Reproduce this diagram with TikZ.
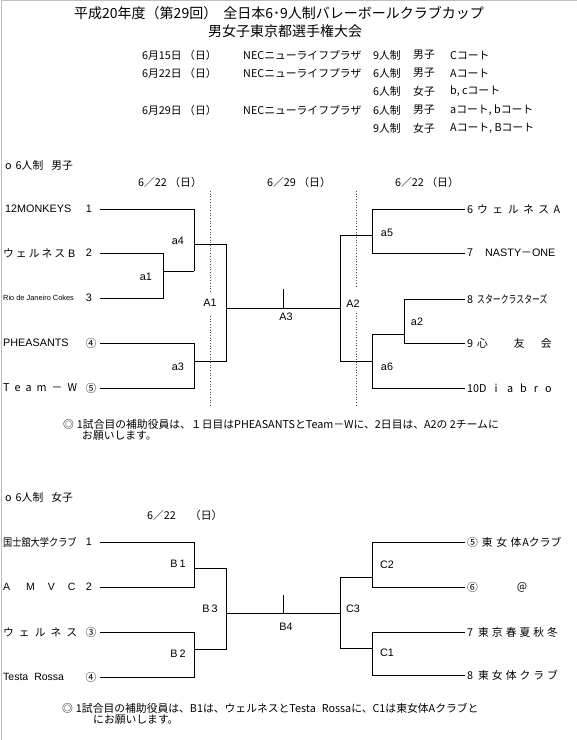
\documentclass[tikz,border=0pt]{standalone}
\usepackage{fontspec}
\setmainfont{Noto Sans CJK JP}
\newfontfamily\lat{Liberation Sans}
\usepackage{graphicx}
\begin{document}
\begin{tikzpicture}[x=1pt,y=-1pt,
  br/.style={line width=0.8pt},
  dotl/.style={dotted, line width=0.7pt, black!70},
  txt/.style={inner sep=0pt, font=\fontsize{10.8}{12}\selectfont},
  tl/.style={txt, anchor=west},
  lab/.style={txt, anchor=center},
  ttl/.style={inner sep=0pt, anchor=center, font=\fontsize{14}{16}\selectfont}]
\useasboundingbox (0,0) rectangle (577,740);
\fill[white] (0,0) rectangle (577,740);
\draw[black!25, line width=1pt] (1,740) -- (1,0.5) -- (577,0.5);

% ---------------- header ----------------
\node[ttl] (title1) at (279,13) {平成20年度（第29回）\hspace{6pt}全日本6･9人制バレーボールクラブカップ};
\node[ttl] (title2) at (285,31) {男女子東京都選手権大会};

\node[tl] (d1) at (142,55) {6月15日 （日）};
\node[tl] (v1) at (243,55) {NECニューライフプラザ};
\node[tl] (c1) at (373,55) {9人制};
\node[tl] (s1) at (413,55) {男子};
\node[tl] (k1) at (450,55) {Cコート};

\node[tl] (d2) at (142,73) {6月22日 （日）};
\node[tl] (v2) at (243,73) {NECニューライフプラザ};
\node[tl] (c2) at (373,73) {6人制};
\node[tl] (s2) at (413,73) {男子};
\node[tl] (k2) at (450,73) {Aコート};

\node[tl] (c3) at (373,91) {6人制};
\node[tl] (s3) at (413,91) {女子};
\node[tl] (k3) at (450,91) {b, cコート};

\node[tl] (d4) at (142,110) {6月29日 （日）};
\node[tl] (v4) at (243,110) {NECニューライフプラザ};
\node[tl] (c4) at (373,110) {6人制};
\node[tl] (s4) at (413,110) {男子};
\node[tl] (k4) at (450,110) {aコート, bコート};

\node[tl] (c5) at (373,128) {9人制};
\node[tl] (s5) at (413,128) {女子};
\node[tl] (k5) at (450,128) {Aコート, Bコート};

% ---------------- men ----------------
\node[tl] (msec) at (5,165) {o\hspace{4pt}6人制\hspace{8pt}男子};
\node[tl] (mdL) at (138,182) {6／22 （日）};
\node[tl] (mdC) at (267,182) {6／29 （日）};
\node[tl] (mdR) at (395,182) {6／22 （日）};

% left teams
\node[tl] (m1) at (5,209) {\lat 12MONKEYS};
\node[lab] (m1n) at (89,209) {\lat 1};
\node[tl] (m2) at (3,253) {ウ\hspace{2pt}ェ\hspace{2pt}ル\hspace{2pt}ネ\hspace{2pt}ス\hspace{3pt}{\lat B}};
\node[lab] (m2n) at (89,253) {\lat 2};
\node[tl, font=\fontsize{7.4}{8}\selectfont\lat] (m3) at (3,298) {Rio de Janeiro Cokes};
\node[lab] (m3n) at (89,298) {\lat 3};
\node[tl] (m4) at (3,343) {\lat PHEASANTS};
\node[lab] (m4n) at (91,343) {④};
\node[tl] (m5) at (3,388) {T\hspace{5pt}e\hspace{5pt}a\hspace{5pt}m\hspace{5pt}－\hspace{5pt}W};
\node[lab] (m5n) at (91,388) {⑤};

% right teams
\node[tl] (m6) at (467,209) {6\hspace{4pt}ウ\hspace{4.5pt}ェ\hspace{4.5pt}ル\hspace{4.5pt}ネ\hspace{4.5pt}ス\hspace{4.5pt}A};
\node[tl] (m7) at (467,253) {7\hspace{12pt}{\lat NASTY}－{\lat ONE}};
\node[tl] (m8) at (467,299) {8\hspace{4pt}\scalebox{0.73}[1]{スタークラスターズ}};
\node[tl] (m9) at (467,343) {9\hspace{4pt}心\hspace{26pt}友\hspace{16pt}会};
\node[tl] (m10) at (467,388) {10D\hspace{8pt}i\hspace{9.5pt}a\hspace{7pt}b\hspace{7pt}r\hspace{7pt}o};

% left bracket coordinates
\coordinate (p1) at (100,209); \coordinate (p2) at (100,253); \coordinate (p3) at (100,298);
\coordinate (p4) at (100,343); \coordinate (p5) at (100,388);
\coordinate (a1t) at (163,253); \coordinate (a1b) at (163,298); \coordinate (a1o) at (163,271);
\coordinate (a4t) at (194,209); \coordinate (a4b) at (194,271); \coordinate (a4o) at (194,244);
\coordinate (a3t) at (194,343); \coordinate (a3b) at (194,388); \coordinate (a3o) at (194,361);
\coordinate (A1t) at (226,244); \coordinate (A1b) at (226,361); \coordinate (A1o) at (226,308);
\coordinate (A3t) at (283,289); \coordinate (A3b) at (283,308);
\coordinate (A2t) at (340,235); \coordinate (A2b) at (340,361); \coordinate (A2o) at (340,308);
\coordinate (a5t) at (372,209); \coordinate (a5b) at (372,253); \coordinate (a5o) at (372,235);
\coordinate (a6t) at (372,334); \coordinate (a6b) at (372,388); \coordinate (a6o) at (372,361);
\coordinate (a2t) at (404,299); \coordinate (a2b) at (404,343); \coordinate (a2o) at (404,334);
\coordinate (q6) at (465,209); \coordinate (q7) at (465,253); \coordinate (q8) at (465,299);
\coordinate (q9) at (465,343); \coordinate (q10) at (465,388);

\draw[br] (p2) -- (a1t) -- (a1b) -- (p3);
\draw[br] (a1o) -- (a4b);
\draw[br] (p1) -- (a4t) -- (a4b);
\draw[br] (p4) -- (a3t) -- (a3b) -- (p5);
\draw[br] (a4o) -- (A1t) -- (A1b) -- (a3o);
\draw[br] (A1o) -- (A2o);
\draw[br] (A3t) -- (A3b);
\draw[br] (a5o) -- (A2t) -- (A2b) -- (a6o);
\draw[br] (q6) -- (a5t) -- (a5b) -- (q7);
\draw[br] (a2o) -- (a6t) -- (a6b) -- (q10);
\draw[br] (q8) -- (a2t) -- (a2b) -- (q9);

% dotted day separators
\coordinate (dl1) at (210,191); \coordinate (dl2) at (210,291);
\coordinate (dl3) at (210,316); \coordinate (dl4) at (210,407);
\coordinate (dr1) at (356,191); \coordinate (dr2) at (356,288);
\coordinate (dr3) at (356,313); \coordinate (dr4) at (356,407);
\draw[dotl] (dl1) -- (dl2); \draw[dotl] (dl3) -- (dl4);
\draw[dotl] (dr1) -- (dr2); \draw[dotl] (dr3) -- (dr4);

% match labels
\node[lab] (la4) at (178,241) {\lat a4};
\node[lab] (la1) at (146,277) {\lat a1};
\node[lab] (lA1) at (210,303) {\lat A1};
\node[lab] (la3) at (178,367) {\lat a3};
\node[lab] (lA3) at (286,317) {\lat A3};
\node[lab] (lA2) at (353,304) {\lat A2};
\node[lab] (la5) at (387,233) {\lat a5};
\node[lab] (la2) at (417,322) {\lat a2};
\node[lab] (la6) at (387,367) {\lat a6};

% note 1
\node[tl] (n1a) at (63,424) {◎\hspace{3pt}1試合目の補助役員は、１日目はPHEASANTSとTeam－Wに、2日目は、A2の 2チームに};
\node[tl] (n1b) at (82,436) {お願いします。};

% ---------------- women ----------------
\node[tl] (wsec) at (5,497) {o\hspace{4pt}6人制\hspace{8pt}女子};
\node[tl] (wd) at (147,515) {6／22\hspace{14pt}（日）};

\node[tl] (w1) at (3,542) {\scalebox{0.85}[1]{国士舘大学クラブ}};
\node[lab] (w1n) at (89,542) {\lat 1};
\node[tl, font=\fontsize{10.5}{12}\selectfont\lat] (w2) at (3,587) {A\hspace{16pt}M\hspace{13pt}V\hspace{13pt}C};
\node[lab] (w2n) at (89,587) {\lat 2};
\node[tl] (w3) at (3,632) {ウ\hspace{5pt}ェ\hspace{5pt}ル\hspace{5pt}ネ\hspace{5pt}ス};
\node[lab] (w3n) at (91,632) {③};
\node[tl, font=\fontsize{10.5}{12}\selectfont\lat] (w4) at (3,677) {Testa\hspace{6pt}Rossa};
\node[lab] (w4n) at (91,677) {④};

\node[tl] (w5) at (467,542) {⑤\hspace{4pt}東\hspace{3.5pt}女\hspace{3.5pt}体\hspace{1pt}Aクラブ};
\node[tl] (w6) at (467,587) {⑥};
\node[lab] (w6b) at (522,587) {＠};
\node[tl] (w7) at (467,632) {7\hspace{5pt}東\hspace{3pt}京\hspace{3pt}春\hspace{3pt}夏\hspace{3pt}秋\hspace{3pt}冬};
\node[tl] (w8) at (467,675) {8\hspace{5pt}東\hspace{3pt}女\hspace{3pt}体\hspace{3pt}ク\hspace{3pt}ラ\hspace{3pt}ブ};

\coordinate (r1) at (100,542); \coordinate (r2) at (100,587);
\coordinate (r3) at (100,632); \coordinate (r4) at (100,677);
\coordinate (B1t) at (194,542); \coordinate (B1b) at (194,587); \coordinate (B1o) at (194,568);
\coordinate (B2t) at (194,632); \coordinate (B2b) at (194,677); \coordinate (B2o) at (194,649);
\coordinate (B3t) at (226,568); \coordinate (B3b) at (226,649); \coordinate (B3o) at (226,613);
\coordinate (B4t) at (283,595); \coordinate (B4b) at (283,613);
\coordinate (C3t) at (340,577); \coordinate (C3b) at (340,648); \coordinate (C3o) at (340,613);
\coordinate (C2t) at (372,542); \coordinate (C2b) at (372,587); \coordinate (C2o) at (372,577);
\coordinate (C1t) at (372,632); \coordinate (C1b) at (372,675); \coordinate (C1o) at (372,648);
\coordinate (s5) at (465,542); \coordinate (s6) at (465,587);
\coordinate (s7) at (465,632); \coordinate (s8) at (465,675);

\draw[br] (r1) -- (B1t) -- (B1b) -- (r2);
\draw[br] (r3) -- (B2t) -- (B2b) -- (r4);
\draw[br] (B1o) -- (B3t) -- (B3b) -- (B2o);
\draw[br] (B3o) -- (C3o);
\draw[br] (B4t) -- (B4b);
\draw[br] (C2o) -- (C3t) -- (C3b) -- (C1o);
\draw[br] (s5) -- (C2t) -- (C2b) -- (s6);
\draw[br] (s7) -- (C1t) -- (C1b) -- (s8);

\node[lab] (lB1) at (178,564) {\lat B\hspace{2pt}1};
\node[lab] (lB3) at (210,609) {\lat B\hspace{2pt}3};
\node[lab] (lB2) at (178,654) {\lat B\hspace{2pt}2};
\node[lab] (lB4) at (286,627) {\lat B4};
\node[lab] (lC2) at (387,565) {\lat C2};
\node[lab] (lC3) at (353,609) {\lat C3};
\node[lab] (lC1) at (387,653) {\lat C1};

% note 2
\node[tl] (n2a) at (62,708) {◎\hspace{3pt}1試合目の補助役員は、B1は、ウェルネスとTesta\hspace{6pt}Rossaに、C1は東女体Aクラブと};
\node[tl] (n2b) at (93,720) {にお願いします。};
\end{tikzpicture}
\end{document}
